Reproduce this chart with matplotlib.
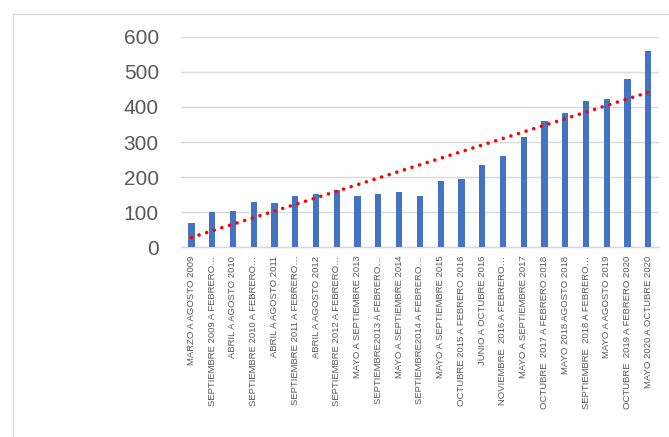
import numpy as np
import matplotlib
matplotlib.use("Agg")
import matplotlib.pyplot as plt
from matplotlib.patches import Rectangle

PERIODOS = [
    "MARZO A AGOSTO 2009",
    "SEPTIEMBRE 2009 A FEBRERO…",
    "ABRIL A AGOSTO 2010",
    "SEPTIEMBRE 2010 A FEBRERO…",
    "ABRIL A AGOSTO 2011",
    "SEPTIEMBRE 2011 A FEBRERO…",
    "ABRIL A AGOSTO 2012",
    "SEPTIEMBRE 2012 A FEBRERO…",
    "MAYO A SEPTIEMBRE 2013",
    "SEPTIEMBRE2013 A FEBRERO…",
    "MAYO A SEPTIEMBRE 2014",
    "SEPTIEMBRE2014 A FEBRERO…",
    "MAYO A SEPTIEMBRE 2015",
    "OCTUBRE 2015 A FEBRERO 2016",
    "JUNIO A OCTUBRE 2016",
    "NOVIEMBRE  2016 A FEBRERO…",
    "MAYO A SEPTIEMBRE 2017",
    "OCTUBRE  2017 A FEBRERO 2018",
    "MAYO 2018 AGOSTO 2018",
    "SEPTIEMBRE  2018 A FEBRERO…",
    "MAYO A AGOSTO 2019",
    "OCTUBRE  2019 A FEBRERO 2020",
    "MAYO 2020 A OCTUBRE 2020",
]

VALORES = [70, 100, 103, 129, 127, 146, 151, 163, 145, 153, 158, 145,
           189, 196, 234, 261, 315, 360, 383, 417, 422, 480, 558]

Y_TICKS = [0, 100, 200, 300, 400, 500, 600]

BLUE = "#4472C4"
GRID = "#D9D9D9"
TEXT = "#595959"

plt.rcParams["font.family"] = ["Liberation Sans", "DejaVu Sans"]

fig = plt.figure(figsize=(6.69, 4.37), dpi=100)
ax = fig.add_axes([0.2706, 0.434, 0.714, 0.482])

# marco del grafico
fig.patches.append(Rectangle((13 / 669, -0.05), 1.1, 423 / 437 + 0.05,
                             transform=fig.transFigure, fill=False,
                             edgecolor=GRID, linewidth=1.0))

x = np.arange(len(VALORES))
ax.bar(x, VALORES, width=0.3, color=BLUE, zorder=3)

# linea de tendencia lineal
m, b = np.polyfit(x, VALORES, 1)
ax.plot(x, m * x + b, color="red", linewidth=2.6,
        linestyle=(0, (0.01, 2.2)), dash_capstyle="round", zorder=4)

ax.set_xlim(-0.5, len(VALORES) - 0.5)
ax.set_ylim(0, 600)
ax.set_yticks(Y_TICKS)
ax.set_yticklabels([str(v) for v in Y_TICKS], fontsize=15, color=TEXT)
ax.tick_params(axis="y", length=0, pad=16)

ax.set_xticks(x)
ax.set_xticklabels(PERIODOS, rotation=90, ha="center", va="top",
                   fontsize=6.8, color=TEXT)
ax.tick_params(axis="x", length=0, pad=6)

ax.grid(axis="y", color=GRID, linewidth=1.0, zorder=0)
for s in ["top", "right", "left"]:
    ax.spines[s].set_visible(False)
ax.spines["bottom"].set_color(GRID)
ax.spines["bottom"].set_linewidth(1.0)

fig.savefig("out.png", dpi=100)
